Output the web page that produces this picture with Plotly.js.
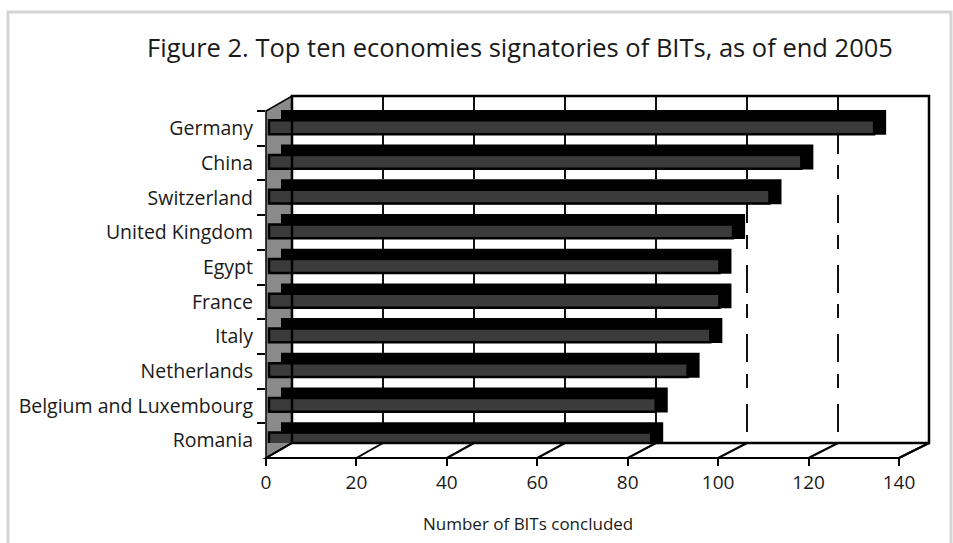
<!DOCTYPE html>
<html>
<head>
<meta charset="utf-8">
<script src="https://cdn.plot.ly/plotly-3.0.1.min.js"></script>
<style>html,body{margin:0;padding:0;background:#fff;}#chart{width:953px;height:543px;}</style>
</head>
<body>
<div id="chart"></div>
<script>
// ---- data ----
const categories = ['Germany','China','Switzerland','United Kingdom','Egypt','France','Italy','Netherlands','Belgium and Luxembourg','Romania'];
const bits = [133, 117, 110, 102, 99, 99, 97, 92, 85, 84];
const xTickVals = [0, 20, 40, 60, 80, 100, 120, 140];
const xTickText = ['0', '20', '40', '60', '80', '100', '120', '140'];
const chartTitle = 'Figure 2. Top ten economies signatories of BITs, as of end 2005';
const xTitle = 'Number of BITs concluded';

// ---- geometry (pixels) ----
const Wd = 953, Ht = 543;
const ml = 250, mr = 16, mt = 90, mb = 73;
const PW = Wd - ml - mr, PH = Ht - mt - mb;
const px = x => (x - ml) / PW;
const py = y => 1 - (y - mt) / PH;
// back wall
const BL = 292, BR = 929, BT = 96, BB = 443;
// front frame
const FL = 266, FR = 899, FT = 111, FB = 458;
const K = (BR - BL) / 140;          // px per unit on back wall
const KF = (FR - FL) / 140;         // px per unit on front
const mainL = FL, mainR = BR;       // main x domain (px)
const mainW = mainR - mainL;
function rangeFor(zeroPx) { const a = -(zeroPx - mainL) / K; return [a, a + mainW / K]; }
const mainDomain = [px(mainL), px(mainR)];

const font = "'Open Sans', 'Noto Sans', sans-serif";

const traces = [
  { // invisible carrier for the back-wall subplot (gridlines)
    type: 'scatter', mode: 'markers', x: bits, y: categories,
    xaxis: 'x', yaxis: 'y', marker: { opacity: 0 }, hoverinfo: 'skip', showlegend: false
  },
  { // top face (black)
    type: 'bar', orientation: 'h', x: bits, y: categories,
    xaxis: 'x3', yaxis: 'y',
    marker: { color: '#000000', line: { width: 0 } },
    width: 0.72, offset: -0.36, hoverinfo: 'x+y', showlegend: false
  },
  { // front face (dark gray with black border)
    type: 'bar', orientation: 'h', x: bits, y: categories,
    xaxis: 'x4', yaxis: 'y',
    marker: { color: '#3b3b3b', line: { color: '#000000', width: 2.5 } },
    width: 0.40, offset: -0.06, hoverinfo: 'x+y', showlegend: false
  },
  { // invisible carrier for front frame axes
    type: 'scatter', mode: 'markers', x: bits, y: categories,
    xaxis: 'x2', yaxis: 'y2', marker: { opacity: 0 }, hoverinfo: 'skip', showlegend: false
  }
];

const shapes = [];
// outer light frame
shapes.push({ type: 'rect', xref: 'paper', yref: 'paper', x0: px(8), x1: px(951), y0: py(600), y1: py(12),
  line: { color: '#d4d4d4', width: 3 }, fillcolor: 'rgba(0,0,0,0)', layer: 'below' });
// left gray wall
shapes.push({ type: 'path', xref: 'paper', yref: 'paper', layer: 'below',
  path: `M ${px(FL)},${py(FT)} L ${px(BL)},${py(BT)} L ${px(BL)},${py(BB)} L ${px(FL)},${py(FB)} Z`,
  fillcolor: '#8a8a8a', line: { color: '#000', width: 1.5 } });
// floor
shapes.push({ type: 'path', xref: 'paper', yref: 'paper', layer: 'below',
  path: `M ${px(FL)},${py(FB)} L ${px(BL)},${py(BB)} L ${px(BR)},${py(BB)} L ${px(FR)},${py(FB)} Z`,
  fillcolor: '#ffffff', line: { color: '#000', width: 2 } });
// floor diagonals at ticks
xTickVals.forEach(v => {
  shapes.push({ type: 'line', xref: 'paper', yref: 'paper', layer: 'below',
    x0: px(FL + KF * v), y0: py(FB), x1: px(BL + K * v), y1: py(BB),
    line: { color: '#000', width: 2 } });
});
// back wall frame
shapes.push({ type: 'rect', xref: 'paper', yref: 'paper', layer: 'above',
  x0: px(BL), x1: px(BR), y0: py(BB), y1: py(BT), line: { color: '#000', width: 2.5 }, fillcolor: 'rgba(0,0,0,0)' });

const layout = {
  width: Wd, height: Ht,
  margin: { l: ml, r: mr, t: mt, b: mb, pad: 0 },
  paper_bgcolor: '#ffffff', plot_bgcolor: 'rgba(0,0,0,0)',
  barmode: 'overlay',
  font: { family: font, size: 16, color: '#1a1a1a' },
  title: { text: chartTitle, font: { family: font, size: 25.5, color: '#1a1a1a' },
    x: 520 / Wd, xanchor: 'center', xref: 'container', y: 1 - 48 / Ht, yanchor: 'middle', yref: 'container' },
  xaxis: { domain: mainDomain, range: rangeFor(BL), anchor: 'y',
    showline: false, zeroline: false, showticklabels: false, ticks: '',
    showgrid: true, tickmode: 'array', tickvals: xTickVals, gridcolor: '#111111', gridwidth: 2,
    griddash: '14px,16px,28px,11.4px', fixedrange: true },
  xaxis3: { overlaying: 'x', anchor: 'y', domain: mainDomain, range: rangeFor(281), visible: false, fixedrange: true },
  xaxis4: { overlaying: 'x', anchor: 'y', domain: mainDomain, range: rangeFor(269), visible: false, fixedrange: true },
  yaxis: { domain: [py(BB), py(BT)], type: 'category', categoryorder: 'array', categoryarray: categories,
    range: [9.24, -0.76], showline: false, zeroline: false, showticklabels: false, ticks: '', showgrid: false, fixedrange: true },
  xaxis2: { domain: [px(FL), px(FR)], range: [0, 140], anchor: 'y2',
    showline: false, zeroline: false, showgrid: false,
    tickmode: 'array', tickvals: xTickVals, ticktext: xTickText,
    ticks: 'outside', ticklen: 7, tickwidth: 2, tickcolor: '#000',
    tickfont: { family: font, size: 19, color: '#1a1a1a' }, fixedrange: true },
  yaxis2: { domain: [py(FB), py(FT)], anchor: 'x2', type: 'category', categoryorder: 'array', categoryarray: categories,
    range: [9.5, -0.5], showline: false, zeroline: false, showgrid: false,
    ticks: 'outside', tickson: 'boundaries', ticklen: 8, tickwidth: 2, tickcolor: '#000',
    tickfont: { family: font, size: 19.5, color: '#1a1a1a' }, ticklabelstandoff: 12, fixedrange: true },
  annotations: [{ text: xTitle, xref: 'paper', yref: 'paper', x: px(528), y: py(523),
    xanchor: 'center', yanchor: 'middle', showarrow: false, font: { family: font, size: 17, color: '#1a1a1a' } }],
  shapes: shapes
};

Plotly.newPlot('chart', traces, layout, { displayModeBar: false, staticPlot: true });
</script>
</body>
</html>
